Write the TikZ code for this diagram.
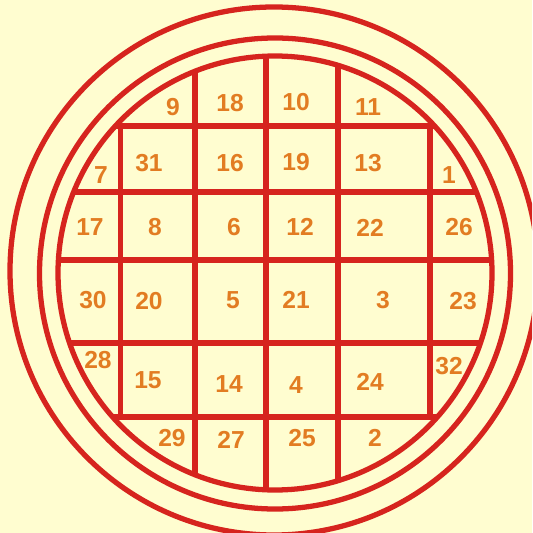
\documentclass[tikz,border=0pt]{standalone}
\usepackage{fontspec}
\setmainfont{Liberation Sans}
\definecolor{sealred}{RGB}{214,36,30}
\definecolor{numorange}{RGB}{226,124,34}
\definecolor{paper}{RGB}{255,253,208}

\begin{document}
\begin{tikzpicture}[x=0.02cm, y=-0.02cm,
                    ring/.style={sealred, line width=3pt},
                    num/.style={numorange, inner sep=0pt,
                                font=\bfseries\fontsize{14}{14}\selectfont}]

    % ==========================================================
    % fondo y marco
    % ==========================================================
    \fill[paper] (0,0) rectangle (532,533);
    \useasboundingbox (0,0) rectangle (532,533);
    \clip (0,0) rectangle (532,533);

    % anillos exteriores
    \draw[ring] (274,271) circle[radius=264];
    \draw[ring] (275,273.5) circle[radius=235.5];

    % ==========================================================
    % rejilla dentro del circulo interior
    % ==========================================================
    \begin{scope}
        \clip (275,273) circle[radius=217];
        \foreach \x in {195,266,338} {
            \draw[ring] (\x,0) -- (\x,533);
        }
        \foreach \y in {126,192,260,343,417} {
            \draw[ring] (0,\y) -- (532,\y);
        }
        \draw[ring] (120.5,126) -- (120.5,417);
        \draw[ring] (430,126) -- (430,417);
    \end{scope}
    \draw[ring] (275,273) circle[radius=217];

    % ==========================================================
    % numeros
    % ==========================================================
    \foreach \x/\y/\t in {173/107/9, 230/103/18, 296/102/10, 368/107/11,
                          101/175/7, 149/163/31, 230/163/16, 296/162/19,
                          368/163/13, 449/175/1,
                          90/227/17, 155/227/8, 234/227/6, 300/227/12,
                          370/228/22, 459/227/26,
                          93/300/30, 149/301/20, 233/300/5, 296/300/21,
                          383/300/3, 463/301/23,
                          98/360/28, 148/380/15, 229/384/14, 296/385/4,
                          370/382/24, 449/366/32,
                          172/438/29, 231/440/27, 302/438/25, 375/438/2} {
        \node[num] (n\t) at (\x,\y) {\t};
    }

\end{tikzpicture}
\end{document}
